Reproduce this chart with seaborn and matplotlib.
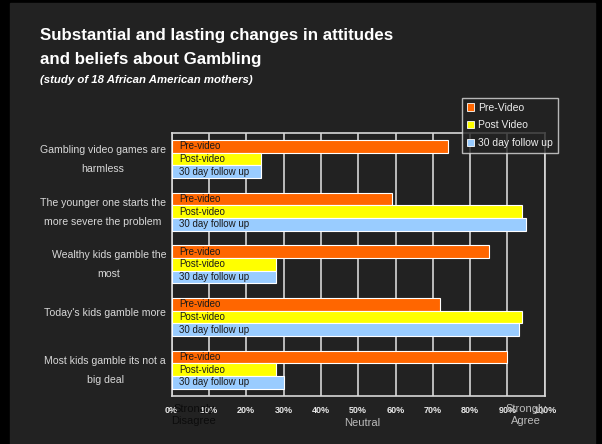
import seaborn as sns
import pandas as pd
import matplotlib.pyplot as plt
from matplotlib.patches import Rectangle, Patch
from matplotlib.transforms import ScaledTranslation

# statements (y categories)
statements = [
    "Gambling video games are\nharmless",
    "The younger one starts the\nmore severe the problem",
    "Wealthy kids gamble the\nmost",
    "Today's kids gamble more",
    "Most kids gamble its not a\nbig deal",
]
series_names = ["Pre-Video", "Post Video", "30 day follow up"]
bar_labels = ["Pre-video", "Post-video", "30 day follow up"]
pre_video = [74, 59, 85, 72, 90]
post_video = [24, 94, 28, 94, 28]
follow_up = [24, 95, 28, 93, 30]
x_ticks = [0, 10, 20, 30, 40, 50, 60, 70, 80, 90, 100]
colors = ["#FF6600", "#FFFF00", "#99CCFF"]

# long form table for seaborn
rows = []
for name, vals in zip(series_names, [pre_video, post_video, follow_up]):
    for s, v in zip(statements, vals):
        rows.append({"statement": s, "series": name, "value": v})
df = pd.DataFrame(rows)

sns.set_style("dark")
plt.rcParams["font.family"] = ["Liberation Sans", "DejaVu Sans"]

fig = plt.figure(figsize=(6.02, 4.44), dpi=100, facecolor="black")
# dark slide panel inside black frame
fig.patches.append(Rectangle((10 / 602, 0), 585 / 602, 441 / 444,
                             transform=fig.transFigure, color="#222222", zorder=-5))

ax = fig.add_axes([0.285, 0.108, 0.62, 0.593])
ax.set_facecolor("#222222")

sns.barplot(data=df, y="statement", x="value", hue="series", palette=colors,
            orient="h", width=0.72, saturation=1, edgecolor="white", linewidth=0.8,
            ax=ax, legend=False, zorder=3)

# labels written inside the bars
for cont, lab in zip(ax.containers, bar_labels):
    for bar in cont:
        ax.text(2, bar.get_y() + bar.get_height() / 2, lab, fontsize=7,
                color="#1a1a1a", va="center", ha="left", zorder=4)

ax.set_xlim(0, 100)
ax.set_ylim(4.5, -0.5)
ax.set_xticks(x_ticks)
ax.set_xticklabels([f"{t}%" for t in x_ticks], fontsize=6.5, fontweight="bold",
                   color="#e8e8e8")
ax.set_yticks(range(len(statements)))
ax.set_yticklabels(statements, fontsize=7.6, color="#d8d8d8",
                   multialignment="center", linespacing=2.1)
ax.set_yticks([i - 0.5 for i in range(len(statements) + 1)], minor=True)
ax.tick_params(axis="y", which="major", length=0, pad=4)
ax.tick_params(axis="y", which="minor", length=4, color="#dddddd", direction="out")
ax.tick_params(axis="x", length=3, color="#dddddd", direction="out", pad=4)
ax.set_xlabel("")
ax.set_ylabel("")
# nudge the statement labels up a little
for lbl in ax.get_yticklabels():
    lbl.set_transform(lbl.get_transform() + ScaledTranslation(0, 5 / 100, fig.dpi_scale_trans))

ax.grid(axis="x", color="#c8c8c8", linewidth=1.3, zorder=1)
ax.grid(axis="y", visible=False)
for side in ["left", "bottom", "top", "right"]:
    ax.spines[side].set_visible(True)
    ax.spines[side].set_color("#d8d8d8")
    ax.spines[side].set_linewidth(1.2)

# scale anchors under the axis
ax.text(6, -0.03, "Strongly\nDisagree", transform=ax.get_xaxis_transform(),
        ha="center", va="top", fontsize=8, color="#0c0c0c", linespacing=1.25)
ax.text(51, -0.082, "Neutral", transform=ax.get_xaxis_transform(),
        ha="center", va="top", fontsize=8, color="#bbbbbb")
ax.text(95, -0.03, "Strongly\nAgree", transform=ax.get_xaxis_transform(),
        ha="center", va="top", fontsize=8, color="#bbbbbb", linespacing=1.25)

# legend
handles = [Patch(facecolor=c, edgecolor="white", linewidth=0.6) for c in colors]
leg = fig.legend(handles, series_names, loc="upper left",
                 bbox_to_anchor=(462 / 602, 1 - 98 / 444), borderaxespad=0,
                 fontsize=7.5, frameon=True, facecolor="#222222",
                 edgecolor="#dddddd", handlelength=0.7, handleheight=0.7,
                 handletextpad=0.4, labelspacing=0.75, borderpad=0.45,
                 fancybox=False)
for t in leg.get_texts():
    t.set_color("#eeeeee")

# titles
fig.text(40 / 602, 1 - 28 / 444,
         "Substantial and lasting changes in attitudes\nand beliefs about Gambling",
         fontsize=12.2, fontweight="bold", color="white", va="top", ha="left",
         linespacing=1.75)
fig.text(40 / 602, 1 - 75 / 444, "(study of 18 African American mothers)",
         fontsize=8.2, fontweight="bold", style="italic", color="white",
         va="top", ha="left")

plt.savefig("out.png", dpi=100, facecolor=fig.get_facecolor())
